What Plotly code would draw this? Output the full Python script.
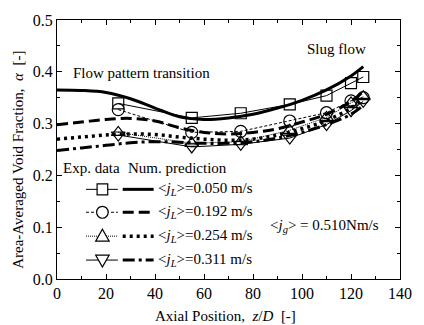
import plotly.graph_objects as go

# ---------------- data ----------------
z_exp = [25, 55, 75, 95, 110, 120, 125]
exp_050 = [0.339, 0.311, 0.320, 0.337, 0.354, 0.378, 0.390]
exp_192 = [0.327, 0.283, 0.285, 0.305, 0.321, 0.344, 0.350]
exp_254 = [0.283, 0.262, 0.265, 0.287, 0.312, 0.340, 0.352]
exp_311 = [0.278, 0.255, 0.260, 0.272, 0.298, 0.325, 0.343]

z_num = [0, 10, 20, 30, 40, 50, 60, 70, 80, 90, 100, 110, 120, 125]
num_050 = [0.365, 0.364, 0.360, 0.348, 0.330, 0.313, 0.308, 0.311, 0.318, 0.330, 0.345, 0.365, 0.392, 0.410]
num_192 = [0.298, 0.303, 0.308, 0.310, 0.305, 0.292, 0.283, 0.280, 0.283, 0.290, 0.303, 0.318, 0.343, 0.362]
num_254 = [0.270, 0.274, 0.278, 0.280, 0.279, 0.274, 0.270, 0.268, 0.270, 0.278, 0.290, 0.306, 0.330, 0.348]
num_311 = [0.248, 0.253, 0.258, 0.263, 0.265, 0.264, 0.262, 0.262, 0.265, 0.272, 0.283, 0.298, 0.318, 0.335]

jl_labels = ["0.050", "0.192", "0.254", "0.311"]

# ---------------- layout constants ----------------
W, H = 424, 325
ML, MR, MT, MB = 57, 12, 19, 46
PW, PH = W - ML - MR, H - MT - MB
FONT = "Liberation Serif, Times New Roman, serif"
TXT = 15


def px(x):
    return (x - ML) / PW


def py(y):
    return (H - MB - y) / PH


exp_styles = [
    dict(symbol="square-open", size=11, dash="solid", width=1),
    dict(symbol="circle-open", size=12, dash="3px,2px", width=1),
    dict(symbol="triangle-up-open", size=12, dash="1px,1px", width=1),
    dict(symbol="triangle-down-open", size=12, dash="solid", width=1),
]
num_styles = [
    dict(dash="solid", width=3),
    dict(dash="11px,5px", width=3),
    dict(dash="3px,4px", width=3.5),
    dict(dash="12px,4px,3px,4px", width=3),
]

fig = go.Figure()

exp_series = [exp_050, exp_192, exp_254, exp_311]
num_series = [num_050, num_192, num_254, num_311]

for i in range(4):
    s = num_styles[i]
    fig.add_trace(go.Scatter(
        x=z_num, y=num_series[i], mode="lines",
        line=dict(color="black", width=s["width"], dash=s["dash"], shape="spline"),
        showlegend=False, hoverinfo="skip"))

for i in range(4):
    s = exp_styles[i]
    fig.add_trace(go.Scatter(
        x=z_exp, y=exp_series[i], mode="lines+markers",
        line=dict(color="black", width=s["width"], dash=s["dash"]),
        marker=dict(symbol=s["symbol"], size=s["size"], color="black",
                    line=dict(width=1.2, color="black")),
        showlegend=False, hoverinfo="skip"))

axis_common = dict(
    showline=True, linecolor="black", linewidth=1.3, mirror="allticks",
    ticks="inside", ticklen=5, tickwidth=1, tickcolor="black",
    showgrid=False, zeroline=False,
    tickfont=dict(family=FONT, size=16, color="black"),
)

fig.update_xaxes(range=[0, 140], dtick=20, tick0=0,
                 minor=dict(dtick=10, ticks="inside", ticklen=3, tickcolor="black"),
                 **axis_common)
fig.update_yaxes(range=[0, 0.5], dtick=0.1, tick0=0, tickformat=".1f",
                 minor=dict(dtick=0.05, ticks="inside", ticklen=3, tickcolor="black"),
                 **axis_common)

shapes = []
annotations = []


def note(x, y, text, xanchor="left", angle=0, size=TXT):
    annotations.append(dict(xref="paper", yref="paper", x=px(x), y=py(y),
                            xanchor=xanchor, yanchor="middle", textangle=angle,
                            text=text, showarrow=False,
                            font=dict(family=FONT, size=size, color="black")))


# legend
rows_y = [189, 212, 236, 260]
exp_x0, exp_x1, mark_x = 87, 120, 104
num_x0, num_x1, text_x = 125, 157, 159
for i, ry in enumerate(rows_y):
    es = exp_styles[i]
    ns = num_styles[i]
    shapes.append(dict(type="line", xref="paper", yref="paper",
                       x0=px(exp_x0), x1=px(exp_x1), y0=py(ry), y1=py(ry),
                       line=dict(color="black", width=1, dash=es["dash"])))
    shapes.append(dict(type="line", xref="paper", yref="paper",
                       x0=px(num_x0), x1=px(num_x1), y0=py(ry), y1=py(ry),
                       line=dict(color="black", width=ns["width"], dash=ns["dash"])))
    h = 5.5
    if i == 0:
        shapes.append(dict(type="rect", xref="paper", yref="paper",
                           x0=px(mark_x - h), x1=px(mark_x + h), y0=py(ry + h), y1=py(ry - h),
                           line=dict(color="black", width=1.2), fillcolor="white"))
    elif i == 1:
        shapes.append(dict(type="circle", xref="paper", yref="paper",
                           x0=px(mark_x - 6), x1=px(mark_x + 6), y0=py(ry + 6), y1=py(ry - 6),
                           line=dict(color="black", width=1.2), fillcolor="white"))
    else:
        if i == 2:
            pts = [(mark_x - 7, ry + 5), (mark_x + 7, ry + 5), (mark_x, ry - 7)]
        else:
            pts = [(mark_x - 7, ry - 5), (mark_x + 7, ry - 5), (mark_x, ry + 7)]
        path = "M " + " L ".join(f"{px(a):.5f},{py(b):.5f}" for a, b in pts) + " Z"
        shapes.append(dict(type="path", xref="paper", yref="paper", path=path,
                           line=dict(color="black", width=1.2), fillcolor="white"))
    note(text_x, ry, f"&lt;<i>j</i><sub><i>L</i></sub>&gt;={jl_labels[i]} m/s")

note(61, 168, "Exp. data")
note(128, 168, "Num. prediction")
note(275, 226, "&lt;<i>j</i><sub><i>g</i></sub>&gt; = 0.510Nm/s")
note(72, 72, "Flow pattern transition")
note(379, 48, "Slug flow", xanchor="right")
# axis titles
note(231, 316, "Axial Position,  <i>z</i>/<i>D</i>  [-]", xanchor="center")
note(17, 159, "Area-Averaged Void Fraction,  <i>α</i>  [-]", xanchor="center", angle=-90)

fig.update_layout(
    width=W, height=H,
    margin=dict(l=ML, r=MR, t=MT, b=MB, pad=0),
    paper_bgcolor="white", plot_bgcolor="white",
    shapes=shapes, annotations=annotations,
    showlegend=False,
)

fig.write_html("out.html", config={"displayModeBar": False},
               post_script="document.body.style.margin='0';document.body.style.overflow='hidden';")
